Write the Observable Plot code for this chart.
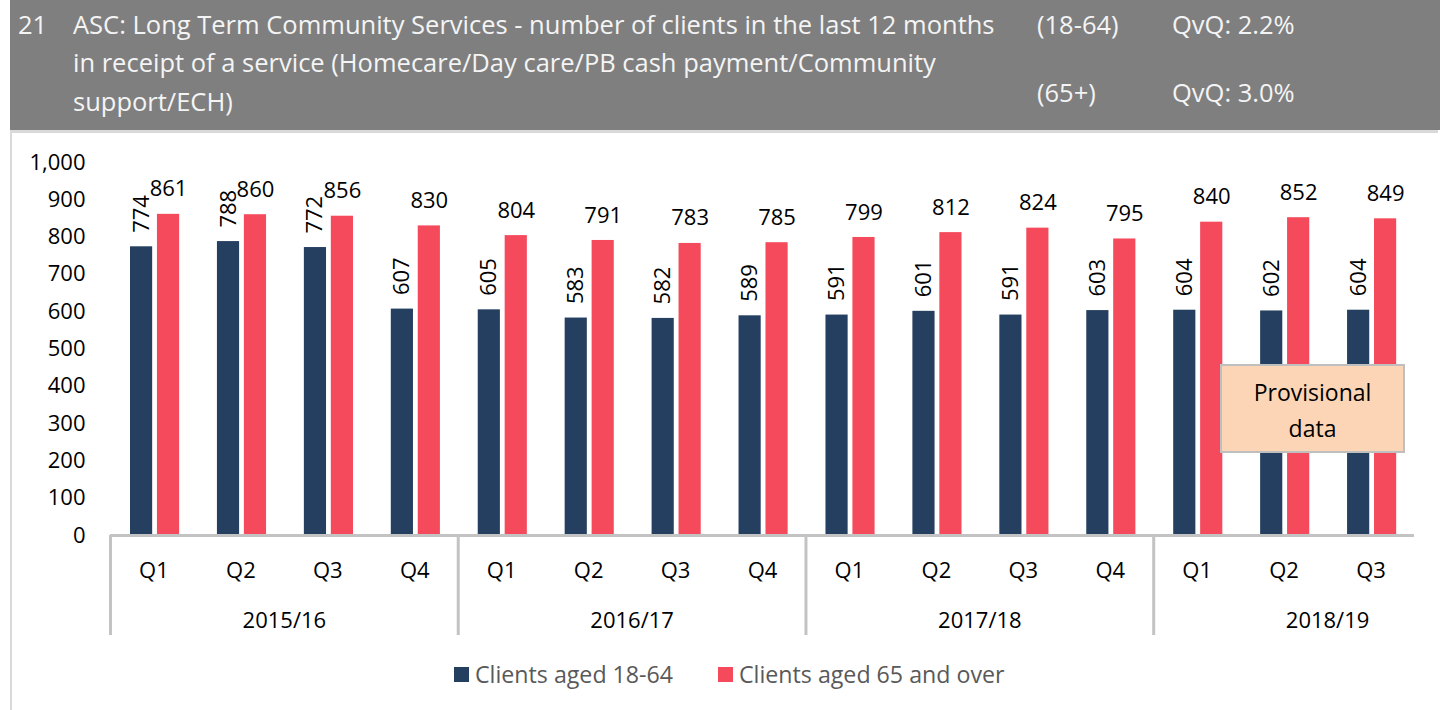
<!DOCTYPE html>
<html>
<head>
<meta charset="utf-8">
<script src="https://cdn.jsdelivr.net/npm/d3@7"></script>
<script src="https://cdn.jsdelivr.net/npm/@observablehq/plot@0.6"></script>
<style>
  html, body { margin: 0; padding: 0; background: #fff; }
  #page { position: relative; width: 1440px; height: 710px; overflow: hidden; font-family: "Open Sans", sans-serif; }
  #header { position: absolute; left: 10px; top: 0; width: 1430px; height: 130px; background: #7f7f7f; color: #f4f4f4; font-size: 25.5px; }
  #header span { position: absolute; white-space: nowrap; line-height: 30px; }
  #frame { position: absolute; left: 10px; top: 130px; width: 1428px; height: 580px; border-left: 2px solid #d9d9d9; border-top: 3px solid #d9d9d9; box-sizing: border-box; }
  #chart { position: absolute; left: 0; top: 130px; }
  #legend { position: absolute; top: 657px; left: 0; width: 1440px; height: 34px; font-size: 23.2px; color: #595959; }
  #legend .item { position: absolute; top: 0; display: inline-flex; align-items: center; white-space: nowrap; line-height: 34px; }
  #legend .sw { width: 15px; height: 15px; display: inline-block; margin-right: 6px; }
  #note { position: absolute; left: 1220px; top: 364px; width: 185px; height: 89px; background: #fbd5b5; border: 2px solid #bfbfbf; box-sizing: border-box; text-align: center; font-size: 23px; line-height: 36px; color: #000; padding-top: 8px; }
</style>
</head>
<body>
<div id="page">
  <div id="header">
    <span style="left:8px;top:9px">21</span>
    <span style="left:63px;top:9px">ASC: Long Term Community Services - number of clients in the last 12 months</span>
    <span style="left:63px;top:47px">in receipt of a service (Homecare/Day care/PB cash payment/Community</span>
    <span style="left:63px;top:86px">support/ECH)</span>
    <span style="left:1027px;top:9px">(18-64)</span>
    <span style="left:1162px;top:9px">QvQ: 2.2%</span>
    <span style="left:1027px;top:77px">(65+)</span>
    <span style="left:1162px;top:77px">QvQ: 3.0%</span>
  </div>
  <div id="frame"></div>
  <div id="chart"></div>
  <div id="note">Provisional<br>data</div>
  <div id="legend">
    <span class="item" style="left:454px"><span class="sw" style="background:#253f60"></span>Clients aged 18-64</span>
    <span class="item" style="left:718px"><span class="sw" style="background:#f44a5c"></span>Clients aged 65 and over</span>
  </div>
</div>
<script>
const years = ["2015/16", "2016/17", "2017/18", "2018/19"];
const quarterLabels = ["Q1","Q2","Q3","Q4","Q1","Q2","Q3","Q4","Q1","Q2","Q3","Q4","Q1","Q2","Q3"];
const clients18to64 = [774, 788, 772, 607, 605, 583, 582, 589, 591, 601, 591, 603, 604, 602, 604];
const clients65plus = [861, 860, 856, 830, 804, 791, 783, 785, 799, 812, 824, 795, 840, 852, 849];

const navy = "#253f60";
const red = "#f44a5c";
const axisGrey = "#c3c3c3";

const data = quarterLabels.map((q, i) => ({
  i, q, year: years[Math.floor(i / 4)], a: clients18to64[i], b: clients65plus[i]
}));
const groupStarts = years.map((y, k) => k * 4);
const n = quarterLabels.length;

const chart = Plot.plot({
  width: 1440,
  height: 520,
  marginLeft: 110,
  marginRight: 26,
  marginTop: 32,
  marginBottom: 115,
  x: { domain: [-0.5, n - 0.5], axis: null },
  y: { domain: [0, 1000], ticks: 10, tickFormat: d3.format(",d"), tickSize: 0, tickPadding: 25, label: null },
  style: { fontFamily: "Open Sans", fontSize: "22px", color: "#000", background: "transparent" },
  marks: [
    Plot.rect(data, { x1: d => d.i - 0.27, x2: d => d.i - 0.015, y1: 0, y2: "a", fill: navy }),
    Plot.rect(data, { x1: d => d.i + 0.04, x2: d => d.i + 0.295, y1: 0, y2: "b", fill: red }),
    Plot.ruleY([0], { x1: -0.5, x2: n - 0.5, stroke: axisGrey, strokeWidth: 3 }),
    Plot.ruleX(groupStarts, { x: d => d - 0.5, y1: 0, y2: 0, insetBottom: -100, stroke: axisGrey, strokeWidth: 3 }),
    Plot.text(data, { x: d => d.i - 0.1425, y: "a", text: d => String(d.a), rotate: -90, textAnchor: "start", dy: -14, fill: "#000" }),
    Plot.text(data, { x: d => d.i + 0.1675, y: "b", text: d => String(d.b), dy: -25, fill: "#000" }),
    Plot.text(data, { x: "i", y: 0, text: "q", dy: 35, fill: "#000" }),
    Plot.text(years, { x: (d, k) => k * 4 + 1.5, y: 0, text: d => d, dy: 85, fill: "#000" })
  ]
});
document.getElementById("chart").appendChild(chart);
</script>
</body>
</html>
